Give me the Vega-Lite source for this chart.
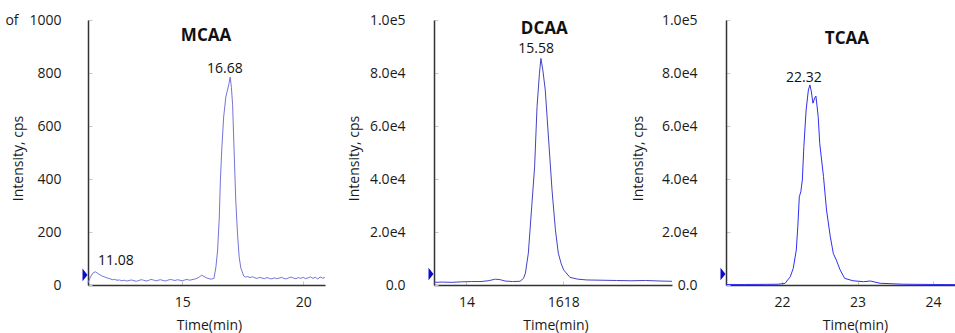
{
  "$schema": "https://vega.github.io/schema/vega-lite/v6.json",
  "autosize": "none",
  "padding": {"left": 88, "top": 20, "right": 880, "bottom": 313},
  "background": "white",
  "datasets": {
    "mcaa": [
      {"t": 11.1, "v": 8}, {"t": 11.2, "v": 30}, {"t": 11.3, "v": 45}, {"t": 11.4, "v": 50}, {"t": 11.5, "v": 44},
      {"t": 11.6, "v": 38}, {"t": 11.7, "v": 33}, {"t": 11.8, "v": 30}, {"t": 11.9, "v": 26}, {"t": 12.0, "v": 24},
      {"t": 12.1, "v": 20}, {"t": 12.2, "v": 21}, {"t": 12.3, "v": 18}, {"t": 12.4, "v": 19}, {"t": 12.5, "v": 16},
      {"t": 12.6, "v": 18}, {"t": 12.7, "v": 15}, {"t": 12.8, "v": 17}, {"t": 12.9, "v": 19}, {"t": 13.0, "v": 16},
      {"t": 13.1, "v": 14}, {"t": 13.2, "v": 17}, {"t": 13.3, "v": 20}, {"t": 13.4, "v": 18}, {"t": 13.5, "v": 15},
      {"t": 13.6, "v": 17}, {"t": 13.7, "v": 21}, {"t": 13.8, "v": 19}, {"t": 13.9, "v": 16}, {"t": 14.0, "v": 18},
      {"t": 14.1, "v": 20}, {"t": 14.2, "v": 17}, {"t": 14.3, "v": 15}, {"t": 14.4, "v": 18}, {"t": 14.5, "v": 21},
      {"t": 14.6, "v": 19}, {"t": 14.7, "v": 17}, {"t": 14.8, "v": 20}, {"t": 14.9, "v": 18}, {"t": 15.0, "v": 16},
      {"t": 15.1, "v": 19}, {"t": 15.2, "v": 21}, {"t": 15.3, "v": 18}, {"t": 15.4, "v": 20}, {"t": 15.5, "v": 22},
      {"t": 15.6, "v": 25}, {"t": 15.7, "v": 30}, {"t": 15.8, "v": 37}, {"t": 15.9, "v": 32}, {"t": 16.0, "v": 27},
      {"t": 16.1, "v": 24}, {"t": 16.2, "v": 22}, {"t": 16.31, "v": 25}, {"t": 16.39, "v": 68}, {"t": 16.46, "v": 132},
      {"t": 16.53, "v": 257}, {"t": 16.57, "v": 385}, {"t": 16.63, "v": 510}, {"t": 16.71, "v": 634}, {"t": 16.8, "v": 710},
      {"t": 16.87, "v": 736}, {"t": 16.93, "v": 760}, {"t": 16.98, "v": 785}, {"t": 17.03, "v": 745}, {"t": 17.08, "v": 680},
      {"t": 17.14, "v": 510}, {"t": 17.21, "v": 321}, {"t": 17.28, "v": 196}, {"t": 17.35, "v": 106}, {"t": 17.42, "v": 64},
      {"t": 17.54, "v": 34}, {"t": 17.62, "v": 30}, {"t": 17.7, "v": 32}, {"t": 17.8, "v": 28}, {"t": 17.9, "v": 31},
      {"t": 18.0, "v": 27}, {"t": 18.1, "v": 25}, {"t": 18.2, "v": 29}, {"t": 18.3, "v": 26}, {"t": 18.4, "v": 24},
      {"t": 18.5, "v": 28}, {"t": 18.6, "v": 25}, {"t": 18.7, "v": 23}, {"t": 18.8, "v": 27}, {"t": 18.9, "v": 24},
      {"t": 19.0, "v": 26}, {"t": 19.1, "v": 29}, {"t": 19.2, "v": 25}, {"t": 19.3, "v": 23}, {"t": 19.4, "v": 27},
      {"t": 19.5, "v": 30}, {"t": 19.6, "v": 26}, {"t": 19.7, "v": 24}, {"t": 19.8, "v": 28}, {"t": 19.9, "v": 25},
      {"t": 20.0, "v": 29}, {"t": 20.1, "v": 24}, {"t": 20.2, "v": 27}, {"t": 20.3, "v": 31}, {"t": 20.4, "v": 25},
      {"t": 20.5, "v": 29}, {"t": 20.6, "v": 23}, {"t": 20.7, "v": 30}, {"t": 20.8, "v": 26}, {"t": 20.9, "v": 28}
    ],
    "dcaa": [
      {"t": 13.33, "v": 1000}, {"t": 13.5, "v": 1100}, {"t": 13.7, "v": 1000}, {"t": 13.9, "v": 1200}, {"t": 14.1, "v": 1300},
      {"t": 14.3, "v": 1300}, {"t": 14.45, "v": 1600}, {"t": 14.6, "v": 2200}, {"t": 14.7, "v": 2000}, {"t": 14.8, "v": 1500},
      {"t": 14.95, "v": 1300}, {"t": 15.11, "v": 1400}, {"t": 15.18, "v": 2500}, {"t": 15.22, "v": 4500}, {"t": 15.28, "v": 12000},
      {"t": 15.35, "v": 29500}, {"t": 15.41, "v": 44600}, {"t": 15.46, "v": 67300}, {"t": 15.51, "v": 79900}, {"t": 15.54, "v": 85500},
      {"t": 15.58, "v": 81100}, {"t": 15.63, "v": 73600}, {"t": 15.7, "v": 54700}, {"t": 15.77, "v": 35800}, {"t": 15.84, "v": 20800},
      {"t": 15.9, "v": 12000}, {"t": 15.96, "v": 8000}, {"t": 16.01, "v": 5700}, {"t": 16.14, "v": 2900}, {"t": 16.3, "v": 2200},
      {"t": 16.49, "v": 1900}, {"t": 16.8, "v": 1800}, {"t": 17.1, "v": 1700}, {"t": 17.4, "v": 1600}, {"t": 17.7, "v": 1700},
      {"t": 18.0, "v": 1500}, {"t": 18.25, "v": 1400}
    ],
    "tcaa": [
      {"t": 21.26, "v": 200}, {"t": 21.5, "v": 200}, {"t": 21.8, "v": 250}, {"t": 21.95, "v": 300}, {"t": 22.04, "v": 600},
      {"t": 22.11, "v": 3100}, {"t": 22.15, "v": 6300}, {"t": 22.19, "v": 13200}, {"t": 22.21, "v": 22000}, {"t": 22.23, "v": 33300},
      {"t": 22.25, "v": 35200}, {"t": 22.27, "v": 39600}, {"t": 22.29, "v": 52200}, {"t": 22.32, "v": 66000}, {"t": 22.35, "v": 73600},
      {"t": 22.37, "v": 75500}, {"t": 22.39, "v": 72900}, {"t": 22.41, "v": 68600}, {"t": 22.44, "v": 71000}, {"t": 22.45, "v": 71300},
      {"t": 22.48, "v": 63500}, {"t": 22.5, "v": 53500}, {"t": 22.55, "v": 40900}, {"t": 22.59, "v": 28300}, {"t": 22.64, "v": 18200},
      {"t": 22.68, "v": 11900}, {"t": 22.72, "v": 9400}, {"t": 22.77, "v": 5700}, {"t": 22.83, "v": 2500}, {"t": 22.94, "v": 1600},
      {"t": 23.08, "v": 1250}, {"t": 23.17, "v": 1500}, {"t": 23.3, "v": 650}, {"t": 23.6, "v": 300}, {"t": 24.0, "v": 200},
      {"t": 24.29, "v": 150}
    ],
    "labels": [
      {"panel": "MCAA", "kind": "title", "t": 15.98, "v": 940, "text": "MCAA"},
      {"panel": "MCAA", "kind": "peak", "t": 16.76, "v": 815, "text": "16.68"},
      {"panel": "MCAA", "kind": "peak", "t": 12.25, "v": 91, "text": "11.08"},
      {"panel": "MCAA", "kind": "marker", "t": 11.1, "v": 38, "text": ""},
      {"panel": "DCAA", "kind": "title", "t": 15.61, "v": 96600, "text": "DCAA"},
      {"panel": "DCAA", "kind": "peak", "t": 15.44, "v": 89100, "text": "15.58"},
      {"panel": "DCAA", "kind": "marker", "t": 13.33, "v": 4150, "text": ""},
      {"panel": "TCAA", "kind": "title", "t": 22.86, "v": 92800, "text": "TCAA"},
      {"panel": "TCAA", "kind": "peak", "t": 22.29, "v": 78100, "text": "22.32"},
      {"panel": "TCAA", "kind": "marker", "t": 21.26, "v": 4150, "text": ""}
    ]
  },
  "config": {
    "font": "Open Sans",
    "view": {"stroke": null},
    "axis": {
      "labelFont": "Open Sans", "labelFontSize": 14, "labelColor": "#1a1a1a",
      "titleFont": "Open Sans", "titleFontSize": 14, "titleFontWeight": "normal", "titleColor": "#1a1a1a",
      "domainColor": "#333333", "domainWidth": 1.5, "tickColor": "#c8c8c8", "tickSize": -4, "tickWidth": 1,
      "grid": false, "labelFlush": false, "labelOverlap": false
    },
    "axisX": {"labelPadding": 14, "titleBaseline": "middle", "titleAlign": "center", "titleY": 40, "titleAnchor": null},
    "axisY": {"titleBaseline": "middle", "titleAlign": "center", "titleAngle": -90, "titleY": 138}
  },
  "hconcat": [
    {
      "width": 237, "height": 265,
      "layer": [
        {
          "data": {"name": "mcaa"},
          "mark": {"type": "line", "color": "#7474dc", "strokeWidth": 1},
          "encoding": {
            "x": {"field": "t", "type": "quantitative", "scale": {"domain": [11.1, 20.9], "nice": false, "zero": false},
                  "axis": {"title": "Time(min)", "values": [15, 20], "format": "d", "titleX": 121}},
            "y": {"field": "v", "type": "quantitative", "scale": {"domain": [0, 1000], "nice": false},
                  "axis": {"title": "Intensity, cps", "values": [0, 200, 400, 600, 800, 1000], "labelPadding": 31, "titleX": -70,
                           "labelExpr": "datum.value == 1000 ? 'of\u00a0\u00a0\u00a01000' : datum.label"}}
          }
        },
        {
          "data": {"name": "labels"},
          "transform": [{"filter": "datum.panel == 'MCAA' && datum.kind == 'marker'"}],
          "mark": {"type": "point", "shape": "M-0.4,-1L0.4,0L-0.4,1Z", "filled": true, "color": "#0a0ad0", "opacity": 1, "size": 160, "xOffset": -3},
          "encoding": {"x": {"field": "t", "type": "quantitative"}, "y": {"field": "v", "type": "quantitative"}}
        },
        {
          "data": {"name": "labels"},
          "transform": [{"filter": "datum.panel == 'MCAA' && datum.kind == 'title'"}],
          "mark": {"type": "text", "fontSize": 17, "fontWeight": "bold", "color": "#111111", "align": "center", "baseline": "middle"},
          "encoding": {"x": {"field": "t", "type": "quantitative"}, "y": {"field": "v", "type": "quantitative"}, "text": {"field": "text"}}
        },
        {
          "data": {"name": "labels"},
          "transform": [{"filter": "datum.panel == 'MCAA' && datum.kind == 'peak'"}],
          "mark": {"type": "text", "fontSize": 14, "color": "#111111", "align": "center", "baseline": "middle"},
          "encoding": {"x": {"field": "t", "type": "quantitative"}, "y": {"field": "v", "type": "quantitative"}, "text": {"field": "text"}}
        }
      ]
    },
    {
      "width": 1, "height": 265,
      "data": {"values": []},
      "mark": {"type": "text", "text": ""},
      "encoding": {}
    },
    {
      "width": 238, "height": 265,
      "layer": [
        {
          "data": {"name": "dcaa"},
          "mark": {"type": "line", "color": "#4343c4", "strokeWidth": 1},
          "encoding": {
            "x": {"field": "t", "type": "quantitative", "scale": {"domain": [13.33, 18.25], "nice": false, "zero": false},
                  "axis": {"title": "Time(min)", "values": [14, 16], "titleX": 121.5,
                           "labelExpr": "datum.value == 16 ? '1618' : datum.label"}},
            "y": {"field": "v", "type": "quantitative", "scale": {"domain": [0, 100000], "nice": false},
                  "axis": {"title": "Intensity, cps", "values": [0, 20000, 40000, 60000, 80000, 100000], "labelPadding": 33, "titleX": -80,
                           "labelExpr": "datum.value == 0 ? '0.0' : replace(format(datum.value, '.1e'), '+', '')"}}
          }
        },
        {
          "data": {"name": "labels"},
          "transform": [{"filter": "datum.panel == 'DCAA' && datum.kind == 'marker'"}],
          "mark": {"type": "point", "shape": "M-0.4,-1L0.4,0L-0.4,1Z", "filled": true, "color": "#0a0ad0", "opacity": 1, "size": 160, "xOffset": -3},
          "encoding": {"x": {"field": "t", "type": "quantitative"}, "y": {"field": "v", "type": "quantitative"}}
        },
        {
          "data": {"name": "labels"},
          "transform": [{"filter": "datum.panel == 'DCAA' && datum.kind == 'title'"}],
          "mark": {"type": "text", "fontSize": 17, "fontWeight": "bold", "color": "#111111", "align": "center", "baseline": "middle"},
          "encoding": {"x": {"field": "t", "type": "quantitative"}, "y": {"field": "v", "type": "quantitative"}, "text": {"field": "text"}}
        },
        {
          "data": {"name": "labels"},
          "transform": [{"filter": "datum.panel == 'DCAA' && datum.kind == 'peak'"}],
          "mark": {"type": "text", "fontSize": 14, "color": "#111111", "align": "center", "baseline": "middle"},
          "encoding": {"x": {"field": "t", "type": "quantitative"}, "y": {"field": "v", "type": "quantitative"}, "text": {"field": "text"}}
        }
      ]
    },
    {
      "width": 229, "height": 265,
      "layer": [
        {
          "data": {"name": "tcaa"},
          "mark": {"type": "line", "color": "#2f2ff2", "strokeWidth": 1},
          "encoding": {
            "x": {"field": "t", "type": "quantitative", "scale": {"domain": [21.26, 24.29], "nice": false, "zero": false},
                  "axis": {"title": "Time(min)", "values": [22, 23, 24], "format": "d", "titleX": 129}},
            "y": {"field": "v", "type": "quantitative", "scale": {"domain": [0, 100000], "nice": false},
                  "axis": {"title": "Intensity, cps", "values": [0, 20000, 40000, 60000, 80000, 100000], "labelPadding": 33, "titleX": -87.5,
                           "labelExpr": "datum.value == 0 ? '0.0' : replace(format(datum.value, '.1e'), '+', '')"}}
          }
        },
        {
          "data": {"name": "labels"},
          "transform": [{"filter": "datum.panel == 'TCAA' && datum.kind == 'marker'"}],
          "mark": {"type": "point", "shape": "M-0.4,-1L0.4,0L-0.4,1Z", "filled": true, "color": "#0a0ad0", "opacity": 1, "size": 160, "xOffset": -3},
          "encoding": {"x": {"field": "t", "type": "quantitative"}, "y": {"field": "v", "type": "quantitative"}}
        },
        {
          "data": {"name": "labels"},
          "transform": [{"filter": "datum.panel == 'TCAA' && datum.kind == 'title'"}],
          "mark": {"type": "text", "fontSize": 17, "fontWeight": "bold", "color": "#111111", "align": "center", "baseline": "middle"},
          "encoding": {"x": {"field": "t", "type": "quantitative"}, "y": {"field": "v", "type": "quantitative"}, "text": {"field": "text"}}
        },
        {
          "data": {"name": "labels"},
          "transform": [{"filter": "datum.panel == 'TCAA' && datum.kind == 'peak'"}],
          "mark": {"type": "text", "fontSize": 14, "color": "#111111", "align": "center", "baseline": "middle"},
          "encoding": {"x": {"field": "t", "type": "quantitative"}, "y": {"field": "v", "type": "quantitative"}, "text": {"field": "text"}}
        }
      ]
    }
  ],
  "spacing": 54,
  "bounds": "flush"
}
